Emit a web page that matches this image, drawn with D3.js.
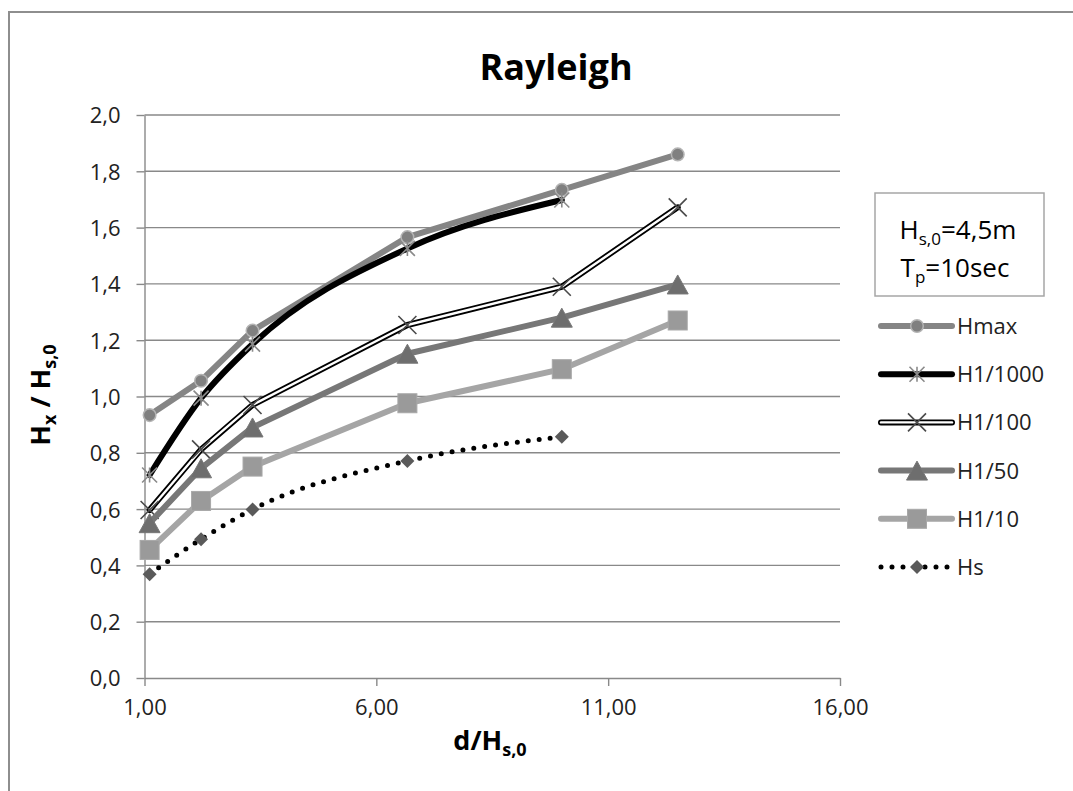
<!DOCTYPE html>
<html>
<head>
<meta charset="utf-8">
<script src="https://cdn.jsdelivr.net/npm/d3@7"></script>
<style>
  html, body { margin: 0; padding: 0; background: #fff; }
  svg { display: block; font-family: "Open Sans", "Liberation Sans", sans-serif; }
</style>
</head>
<body>
<svg id="chart" width="1073" height="791"></svg>
<script>
// Relative depth d/Hs,0 and the characteristic wave heights Hx/Hs,0
const depthRatio = [1.11, 2.22, 3.33, 6.67, 10.0, 12.5];
const hMax   = [0.934, 1.056, 1.234, 1.566, 1.734, 1.860];
const h1000  = [0.721, 0.994, 1.186, 1.526, 1.698, null];
const h100   = [0.597, 0.812, 0.970, 1.254, 1.390, 1.672];
const h50    = [0.550, 0.745, 0.890, 1.152, 1.280, 1.398];
const h10    = [0.455, 0.629, 0.751, 0.976, 1.097, 1.270];
const hS     = [0.369, 0.493, 0.599, 0.771, 0.857, null];

const seriesNames = ["Hmax", "H1/1000", "H1/100", "H1/50", "H1/10", "Hs"];
const xTicks = [1, 6, 11, 16];
const xTickLabels = ["1,00", "6,00", "11,00", "16,00"];
const yTicks = [0, 0.2, 0.4, 0.6, 0.8, 1.0, 1.2, 1.4, 1.6, 1.8, 2.0];
const yTickLabels = ["0,0", "0,2", "0,4", "0,6", "0,8", "1,0", "1,2", "1,4", "1,6", "1,8", "2,0"];

const svg = d3.select("#chart");
const plot = { left: 144.5, right: 840, top: 115, bottom: 678 };
const x = d3.scaleLinear().domain([1, 16]).range([plot.left, plot.right]);
const y = d3.scaleLinear().domain([0, 2]).range([plot.bottom, plot.top]);

const gridColor = "#898989";

// outer chart frame (left and top edges)
svg.append("path")
  .attr("d", "M9,791 L9,12 L1073,12")
  .attr("fill", "none").attr("stroke", "#8e8e8e").attr("stroke-width", 2);

// title
svg.append("text")
  .attr("x", 556).attr("y", 80)
  .attr("text-anchor", "middle")
  .attr("font-size", 36).attr("font-weight", "bold").attr("fill", "#000")
  .text("Rayleigh");

// horizontal gridlines
svg.append("g").selectAll("line")
  .data(yTicks.filter(v => v > 0))
  .join("line")
  .attr("x1", plot.left).attr("x2", plot.right)
  .attr("y1", d => y(d)).attr("y2", d => y(d))
  .attr("stroke", gridColor).attr("stroke-width", 1.4);

// axes
const xAxis = d3.axisBottom(x).tickValues(xTicks)
  .tickFormat((d, i) => xTickLabels[i]).tickSize(8).tickSizeOuter(0).tickPadding(13);
const yAxis = d3.axisLeft(y).tickValues(yTicks)
  .tickFormat((d, i) => yTickLabels[i]).tickSize(8).tickSizeOuter(0).tickPadding(16);

const gx = svg.append("g").attr("transform", `translate(0,${plot.bottom})`).call(xAxis);
const gy = svg.append("g").attr("transform", `translate(${plot.left},0)`).call(yAxis);
[gx, gy].forEach(g => {
  g.select(".domain").attr("stroke", gridColor).attr("stroke-width", 1.4);
  g.selectAll(".tick line").attr("stroke", gridColor).attr("stroke-width", 1.4);
  g.selectAll(".tick text").attr("font-size", 22).attr("fill", "#222")
    .attr("font-family", "\"Open Sans\", sans-serif");
});
gy.selectAll(".tick text").attr("dy", "0.36em");

// axis titles
const yTitle = svg.append("text")
  .attr("transform", "translate(50,395) rotate(-90)")
  .attr("text-anchor", "middle")
  .attr("font-size", 27).attr("font-weight", "bold").attr("fill", "#000");
yTitle.append("tspan").text("H");
yTitle.append("tspan").attr("font-size", 18).attr("dy", 6).text("x");
yTitle.append("tspan").attr("dy", -6).text(" / H");
yTitle.append("tspan").attr("font-size", 18).attr("dy", 6).text("s,0");

const xTitle = svg.append("text")
  .attr("x", 490).attr("y", 750)
  .attr("text-anchor", "middle")
  .attr("font-size", 27).attr("font-weight", "bold").attr("fill", "#000");
xTitle.append("tspan").text("d/H");
xTitle.append("tspan").attr("font-size", 18).attr("dy", 6).text("s,0");

// marker drawing
function drawMarker(g, type, cx, cy) {
  if (type === "circle") {
    g.append("circle").attr("cx", cx).attr("cy", cy).attr("r", 6.3)
      .attr("fill", "#808080").attr("stroke", "#b4b4b4").attr("stroke-width", 1.5);
  } else if (type === "asterisk") {
    const s = 7.5;
    g.append("path")
      .attr("d", `M${cx - s},${cy - s}L${cx + s},${cy + s}M${cx - s},${cy + s}L${cx + s},${cy - s}M${cx},${cy - s}L${cx},${cy + s}`)
      .attr("stroke", "#8a8a8a").attr("stroke-width", 1.6).attr("fill", "none");
  } else if (type === "cross") {
    const s = 9;
    g.append("path")
      .attr("d", `M${cx - s},${cy - s}L${cx + s},${cy + s}M${cx - s},${cy + s}L${cx + s},${cy - s}`)
      .attr("stroke", "#4a4a4a").attr("stroke-width", 1.6).attr("fill", "none");
  } else if (type === "triangle") {
    const w = 10.5, h = 9.5;
    g.append("path")
      .attr("d", `M${cx},${cy - h}L${cx + w},${cy + h}L${cx - w},${cy + h}Z`)
      .attr("fill", "#6e6e6e").attr("stroke", "#777").attr("stroke-width", 1);
  } else if (type === "square") {
    const s = 9.5;
    g.append("rect").attr("x", cx - s).attr("y", cy - s).attr("width", 2 * s).attr("height", 2 * s)
      .attr("fill", "#9a9a9a").attr("stroke", "#a8a8a8").attr("stroke-width", 1);
  } else if (type === "diamond") {
    const s = 7;
    g.append("path")
      .attr("d", `M${cx},${cy - s}L${cx + s},${cy}L${cx},${cy + s}L${cx - s},${cy}Z`)
      .attr("fill", "#5a5a5a");
  }
}

// line styles per series
const styles = [
  { values: hMax,  marker: "circle",   color: "#858585", width: 6,  curve: d3.curveLinear },
  { values: h1000, marker: "asterisk", color: "#000",    width: 6,  curve: d3.curveMonotoneX },
  { values: h100,  marker: "cross",    color: "#000",    width: 6,  curve: d3.curveLinear, double: true },
  { values: h50,   marker: "triangle", color: "#777777", width: 6,  curve: d3.curveLinear },
  { values: h10,   marker: "square",   color: "#a5a5a5", width: 6,  curve: d3.curveLinear },
  { values: hS,    marker: "diamond",  color: "#000",    width: 5,  curve: d3.curveMonotoneX, dotted: true }
];

function strokeLine(g, d, st) {
  const p = g.append("path").attr("d", d).attr("fill", "none")
    .attr("stroke", st.color).attr("stroke-width", st.width)
    .attr("stroke-linejoin", "round").attr("stroke-linecap", "round");
  if (st.dotted) p.attr("stroke-dasharray", "0 11");
  if (st.double) {
    g.append("path").attr("d", d).attr("fill", "none")
      .attr("stroke", "#fff").attr("stroke-width", 2.4)
      .attr("stroke-linejoin", "round").attr("stroke-linecap", "round");
  }
}

const seriesLayer = svg.append("g");
styles.forEach(st => {
  const pts = depthRatio.map((d, i) => [d, st.values[i]]).filter(p => p[1] != null);
  const g = seriesLayer.append("g");
  const line = d3.line().x(p => x(p[0])).y(p => y(p[1])).curve(st.curve);
  strokeLine(g, line(pts), st);
  pts.forEach(p => drawMarker(g, st.marker, x(p[0]), y(p[1])));
});

// legend: parameter box
svg.append("rect").attr("x", 875).attr("y", 193).attr("width", 169).attr("height", 103)
  .attr("fill", "#fff").attr("stroke", "#a6a6a6").attr("stroke-width", 1.5);
const p1 = svg.append("text").attr("x", 958).attr("y", 239).attr("text-anchor", "middle")
  .attr("font-size", 26).attr("fill", "#000");
p1.append("tspan").text("H");
p1.append("tspan").attr("font-size", 17).attr("dy", 6).text("s,0");
p1.append("tspan").attr("dy", -6).text("=4,5m");
const p2 = svg.append("text").attr("x", 955).attr("y", 277).attr("text-anchor", "middle")
  .attr("font-size", 26).attr("fill", "#000");
p2.append("tspan").text("T");
p2.append("tspan").attr("font-size", 17).attr("dy", 6).text("p");
p2.append("tspan").attr("dy", -6).text("=10sec");

// legend: series entries
const legendY = d3.scaleLinear().domain([0, 5]).range([326, 567]);
styles.forEach((st, i) => {
  const ly = legendY(i);
  const g = svg.append("g");
  strokeLine(g, `M881,${ly}L952,${ly}`, st);
  drawMarker(g, st.marker, 917, ly);
  g.append("text").attr("x", 957).attr("y", ly).attr("dy", "0.36em")
    .attr("font-size", 22).attr("fill", "#222").text(seriesNames[i]);
});
</script>
</body>
</html>
